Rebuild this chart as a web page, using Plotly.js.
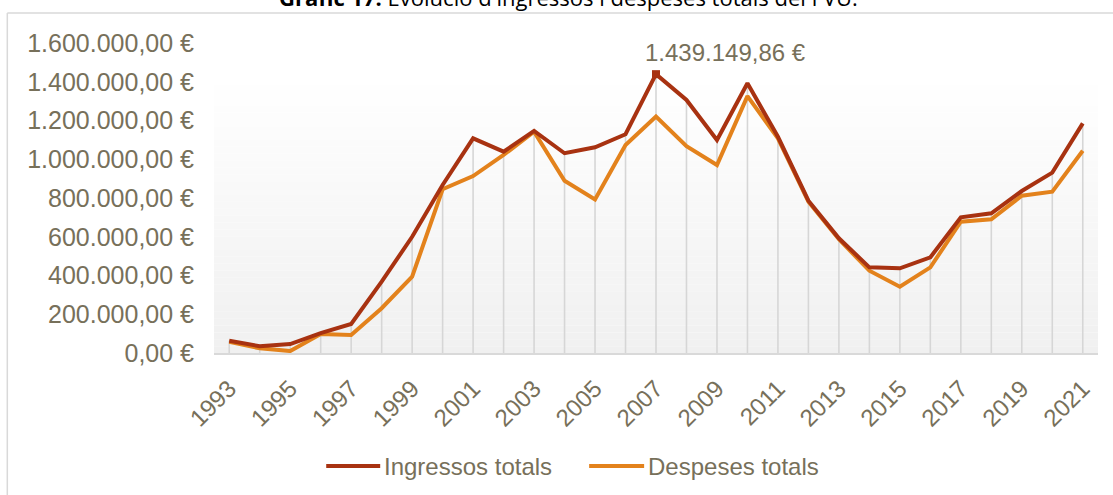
<!DOCTYPE html>
<html>
<head>
<meta charset="utf-8">
<script src="https://cdn.plot.ly/plotly-3.0.1.min.js"></script>
<style>
html,body{margin:0;padding:0;background:#fff;overflow:hidden;}
#chart{width:1113px;height:495px;}
</style>
</head>
<body>
<div id="chart"></div>
<script>
// ---- data ----
const years = [1993,1994,1995,1996,1997,1998,1999,2000,2001,2002,2003,2004,2005,2006,2007,2008,2009,2010,2011,2012,2013,2014,2015,2016,2017,2018,2019,2020,2021];
const ingressos = [63000,35000,46000,103000,150000,368000,600000,867000,1108000,1039000,1146000,1031000,1062000,1129000,1439149.86,1306000,1099000,1392000,1116000,786000,592000,442000,437000,494000,700000,721000,836000,931000,1185000];
const despeses = [58000,24000,10000,98000,93000,231000,394000,845000,913000,1022000,1142000,889000,793000,1073000,1220000,1068000,970000,1326000,1108000,781000,587000,425000,342000,442000,678000,690000,812000,833000,1044000];
const seriesNames = ['Ingressos totals','Despeses totals'];
const xTickYears = [1993,1995,1997,1999,2001,2003,2005,2007,2009,2011,2013,2015,2017,2019,2021];
const titleBold = 'Gràfic 17.';
const titleRest = ' Evolució d\'ingressos i despeses totals del FVU.';

// ---- styling ----
const W = 1113, H = 495;
const M = {l:213.75, r:15, t:43, b:142};
const PW = W - M.l - M.r, PH = H - M.t - M.b;
const px2x = p => (p - M.l) / PW;
const py2y = p => (H - M.b - p) / PH;
const colIng = '#A83211', colDesp = '#E3821C';
const txtCol = '#77705A';
const FONT = 'Liberation Sans, Arial, sans-serif';

function fmtEUR(v){
  const parts = v.toFixed(2).split('.');
  return parts[0].replace(/\B(?=(\d{3})+(?!\d))/g,'.') + ',' + parts[1] + ' €';
}

// drop lines built from data
const dx = [], dy = [];
years.forEach((y,i)=>{ dx.push(y,y,null); dy.push(0, Math.max(ingressos[i], despeses[i]), null); });

// peak
let pk = 0; ingressos.forEach((v,i)=>{ if (v > ingressos[pk]) pk = i; });

const traces = [
  {x:dx, y:dy, mode:'lines', line:{color:'#d6d6d6', width:1.6}, hoverinfo:'skip', showlegend:false},
  {x:years, y:despeses, name:seriesNames[1], mode:'lines', line:{color:colDesp, width:4}, showlegend:false},
  {x:years, y:ingressos, name:seriesNames[0], mode:'lines', line:{color:colIng, width:4}, showlegend:false},
  {x:[years[pk]], y:[ingressos[pk]], mode:'markers', marker:{symbol:'square', size:8, color:colIng}, hoverinfo:'skip', showlegend:false}
];

// gradient background (plot area fill)
const shapes = [];
const gTop = 78, gBot = 353, nb = 40;
for (let k=0;k<nb;k++){
  const t = (k+0.5)/nb;
  const c = Math.round(255 - t*(255-240));
  shapes.push({type:'rect', xref:'paper', yref:'paper', x0:0, x1:1,
    y0:py2y(gTop + (gBot-gTop)*k/nb), y1:py2y(gTop + (gBot-gTop)*(k+1)/nb) ,
    fillcolor:`rgb(${c},${c},${c})`, line:{width:0}, layer:'below'});
}
// chart frame (top & left border)
shapes.push({type:'line', xref:'paper', yref:'paper', x0:px2x(7), x1:px2x(W+5), y0:py2y(13), y1:py2y(13), line:{color:'#d9d9d9', width:1.5}});
shapes.push({type:'line', xref:'paper', yref:'paper', x0:px2x(7), x1:px2x(7), y0:py2y(13), y1:py2y(H+5), line:{color:'#d9d9d9', width:1.5}});
// custom legend lines
const legY = py2y(466);
shapes.push({type:'line', xref:'paper', yref:'paper', x0:px2x(326), x1:px2x(380), y0:legY, y1:legY, line:{color:colIng, width:4}});
shapes.push({type:'line', xref:'paper', yref:'paper', x0:px2x(589), x1:px2x(644), y0:legY, y1:legY, line:{color:colDesp, width:4}});

const annotations = [
  {xref:'x', yref:'y', x:years[pk], y:ingressos[pk], text:fmtEUR(ingressos[pk]), showarrow:false,
   xanchor:'left', yanchor:'bottom', xshift:-13, yshift:6, font:{family:FONT, size:24, color:txtCol}},
  {xref:'paper', yref:'paper', x:px2x(382), y:legY, text:seriesNames[0], showarrow:false, xanchor:'left', yanchor:'middle',
   font:{family:FONT, size:24, color:txtCol}},
  {xref:'paper', yref:'paper', x:px2x(646), y:legY, text:seriesNames[1], showarrow:false, xanchor:'left', yanchor:'middle',
   font:{family:FONT, size:24, color:txtCol}},
  {xref:'paper', yref:'paper', x:px2x(568), y:py2y(-3), text:'<b>'+titleBold+'</b>'+titleRest, showarrow:false, xanchor:'center', yanchor:'middle',
   font:{family:'Open Sans, Noto Sans, sans-serif', size:22, color:'#000'}}
];

const layout = {
  width:W, height:H,
  margin:M,
  paper_bgcolor:'rgba(0,0,0,0)', plot_bgcolor:'#fff',
  separators:',.',
  showlegend:false,
  xaxis:{range:[1992.5, 2021.5], tickvals:xTickYears, ticktext:xTickYears.map(String), tickangle:-45,
    showgrid:false, zeroline:false, showline:true, linecolor:'#d9d9d9', linewidth:2, ticks:'',
    ticklabelstandoff:10, tickfont:{family:FONT, size:24, color:txtCol}, fixedrange:true},
  yaxis:{range:[0,1600000], dtick:200000, tickformat:',.2f', ticksuffix:' €', showgrid:false, zeroline:false,
    showline:false, ticks:'', ticklabelstandoff:19, tickfont:{family:FONT, size:25, color:txtCol}, fixedrange:true},
  shapes:shapes,
  annotations:annotations
};

Plotly.newPlot('chart', traces, layout, {displayModeBar:false, staticPlot:true});
</script>
</body>
</html>
